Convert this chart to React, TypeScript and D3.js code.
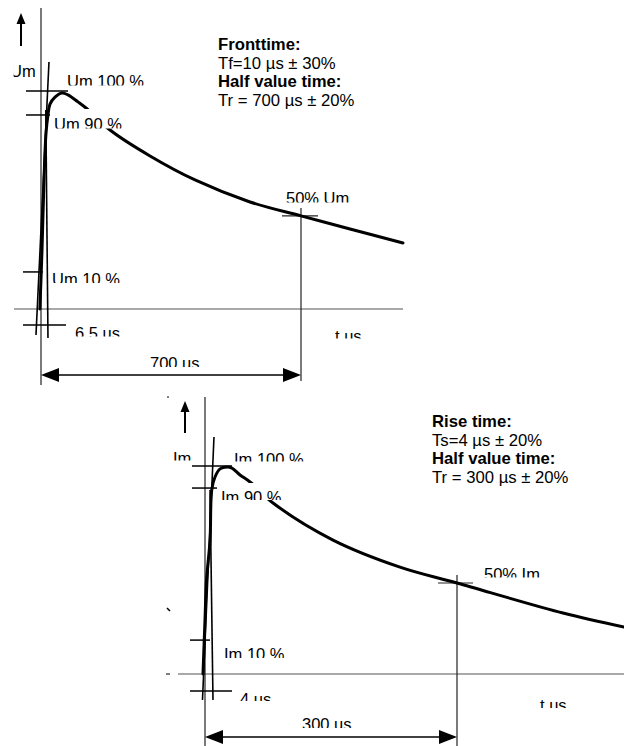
import React from "react";
import * as d3 from "d3";

// ---------- DATA ----------
// Upper waveform (Um, 10/700 µs): time in µs (schematic), level in % of Um
const TOP_T = [-3, 2.7, 8.1, 13.5, 18.8, 24.2, 37.7, 56.5, 72.7, 99.6, 121.2, 185.8, 293.5, 414.6, 562.7, 700, 831.9, 974.6];
const TOP_V = [0, 27.1, 59.2, 80.7, 89.0, 94.0, 97.2, 99.1, 98.2, 95.0, 92.2, 82.1, 70.2, 59.2, 49.1, 42.7, 36.7, 30.3];
// Lower waveform (Im, 4/300 µs)
const BOT_T = [-2.4, 0, 1.8, 6.0, 8.0, 11.9, 17.9, 26.2, 32.1, 41.7, 53.6, 81.0, 152.4, 232.1, 300, 426.2, 498.8];
const BOT_V = [0, 26.0, 45.2, 64.4, 88.5, 94.7, 98.6, 99.5, 99.0, 95.7, 92.3, 82.2, 64.4, 51.4, 43.75, 29.3, 22.6];

// reference levels (100 %, 90 %, 10 %, time marker)
const TOP_LEVELS = [100, 89, 17, -7.3];
const BOT_LEVELS = [100, 89.4, 16.3, -8.2];
const TOP_HALF = { t: 700, v: 42.7 };
const BOT_HALF = { t: 300, v: 43.75 };

// front lines [t0, v0, t1, v1]
const TOP_FRONT = [[21.5, 113.3, -13.5, -11.9], [12.9, 91.3, 18.8, -13.3]];
const BOT_FRONT = [[10.7, 113.9, -3.0, -12.5], [6.0, 88.5, 9.5, -12.5]];

const TOP_LABELS = ["Um", "Um 100 %", "Um 90 %", "Um 10 %", "6.5 us", "700 us", "50% Um", "t us"];
const BOT_LABELS = ["Im", "Im 100 %", "Im 90 %", "Im 10 %", "4 us", "300 us", "50% Im", "t us"];

const TOP_TEXT = [
  { s: "Fronttime:", b: true },
  { s: "Tf=10 µs ± 30%", b: false },
  { s: "Half value time:", b: true },
  { s: "Tr = 700 µs ± 20%", b: false },
];
const BOT_TEXT = [
  { s: "Rise time:", b: true },
  { s: "Ts=4 µs ± 20%", b: false },
  { s: "Half value time:", b: true },
  { s: "Tr = 300 µs ± 20%", b: false },
];

// ---------- LAYOUT ----------
const FONT = "'Liberation Sans', Arial, sans-serif";
const FS = 16.5;
const FS_TXT = 16.7;

type Layout = {
  id: string;
  xDomain: [number, number];
  xRange: [number, number];
  yRange: [number, number];
  axisY: [number, number];
  baseX: [number, number];
  tickExt: [number, number][];
  halfY1: number;
  halfTick: [number, number];
  dimY: number;
  arrow: { x: number; tip: number; base: number; tail: number };
  labelPos: { x: number; top: number; box: [number, number, number, number] }[];
  textX: number;
  textBase: number[];
};

const TOP_LAYOUT: Layout = {
  id: "top",
  xDomain: [0, 700],
  xRange: [41, 301],
  yRange: [309, 91],
  axisY: [8, 385],
  baseX: [14, 403],
  tickExt: [[-15, 27], [-15, 9], [-18, 2], [-18, 25]],
  halfY1: 381,
  halfTick: [-19, 17],
  dimY: 375,
  arrow: { x: 21, tip: 13, base: 24, tail: 46 },
  labelPos: [
    { x: 10, top: 65, box: [13.6, 58, 38, 80] },
    { x: 67, top: 75, box: [64, 70, 150, 85.5] },
    { x: 54, top: 118, box: [52, 109, 124, 128.5] },
    { x: 52, top: 273, box: [50, 267, 125, 283] },
    { x: 75, top: 327, box: [73, 321, 125, 336.5] },
    { x: 150, top: 357, box: [148, 352, 205, 367] },
    { x: 286, top: 192, box: [284, 187, 350, 202.5] },
    { x: 335, top: 330, box: [333, 325, 370, 338.5] },
  ],
  textX: 218,
  textBase: [50, 68.5, 87, 105.5],
};

const BOT_LAYOUT: Layout = {
  id: "bot",
  xDomain: [0, 300],
  xRange: [205, 457],
  yRange: [674, 466],
  axisY: [397, 746],
  baseX: [178, 624],
  tickExt: [[-13, 27], [-13, 12], [-15, 5], [-15, 27]],
  halfY1: 746,
  halfTick: [-19, 16],
  dimY: 737,
  arrow: { x: 185, tip: 401, base: 412, tail: 433 },
  labelPos: [
    { x: 173, top: 452, box: [170, 447, 195, 460.5] },
    { x: 234, top: 453, box: [232, 448, 315, 461.5] },
    { x: 221, top: 491, box: [219, 483, 290, 500] },
    { x: 224, top: 648, box: [222, 643, 295, 658] },
    { x: 240, top: 693, box: [238, 688, 275, 701] },
    { x: 302, top: 718, box: [300, 713, 360, 728] },
    { x: 484, top: 568, box: [482, 563, 550, 577.5] },
    { x: 540, top: 699, box: [538, 694, 575, 708] },
  ],
  textX: 432,
  textBase: [427, 445.5, 464, 482.5],
};

function Panel(props: {
  L: Layout;
  T: number[];
  V: number[];
  levels: number[];
  half: { t: number; v: number };
  front: number[][];
  labels: string[];
  text: { s: string; b: boolean }[];
}) {
  const { L, T, V, levels, half, front, labels, text } = props;
  const x = d3.scaleLinear().domain(L.xDomain).range(L.xRange);
  const y = d3.scaleLinear().domain([0, 100]).range(L.yRange);
  const pts: [number, number][] = T.map((t, i) => [t, V[i]]);
  const line = d3
    .line<[number, number]>()
    .x((d) => x(d[0]))
    .y((d) => y(d[1]))
    .curve(d3.curveCatmullRom.alpha(0.5));
  const x0 = x(0);
  const xh = x(half.t);
  const yh = y(half.v);
  const y0 = y(0);
  const a = L.arrow;
  const dy = L.dimY;
  return (
    <g>
      {/* baseline */}
      <line x1={L.baseX[0]} x2={L.baseX[1]} y1={y0} y2={y0} stroke="#555" strokeWidth={1.2} />
      {/* vertical axis */}
      <line x1={x0} x2={x0} y1={L.axisY[0]} y2={L.axisY[1]} stroke="#222" strokeWidth={1.2} />
      {/* up arrow */}
      <line x1={a.x} x2={a.x} y1={a.base} y2={a.tail} stroke="#000" strokeWidth={2} />
      <path d={`M${a.x},${a.tip} L${a.x - 4.5},${a.base} L${a.x + 4.5},${a.base} Z`} fill="#000" />
      {/* level ticks */}
      {levels.map((lv, i) => (
        <line key={i} x1={x0 + L.tickExt[i][0]} x2={x0 + L.tickExt[i][1]} y1={y(lv)} y2={y(lv)} stroke="#000" strokeWidth={1.5} />
      ))}
      {/* front lines */}
      {front.map((f, i) => (
        <line key={i} x1={x(f[0])} y1={y(f[1])} x2={x(f[2])} y2={y(f[3])} stroke="#000" strokeWidth={1.6} />
      ))}
      {/* half value */}
      <line x1={xh} x2={xh} y1={yh - 8} y2={L.halfY1} stroke="#222" strokeWidth={1.2} />
      <line x1={xh + L.halfTick[0]} x2={xh + L.halfTick[1]} y1={yh} y2={yh} stroke="#222" strokeWidth={1.2} />
      {/* curve */}
      <path d={line(pts) || ""} fill="none" stroke="#000" strokeWidth={3} strokeLinecap="round" />
      {/* dimension */}
      <line x1={x0 + 16} x2={xh - 16} y1={dy} y2={dy} stroke="#000" strokeWidth={1.6} />
      <path d={`M${x0},${dy} L${x0 + 18},${dy - 7} L${x0 + 18},${dy + 7} Z`} fill="#000" />
      <path d={`M${xh},${dy} L${xh - 18},${dy - 7} L${xh - 18},${dy + 7} Z`} fill="#000" />
      {/* labels with clipping boxes */}
      <defs>
        {L.labelPos.map((p, i) => (
          <clipPath key={i} id={`${L.id}-c${i}`}>
            <rect x={p.box[0]} y={p.box[1]} width={p.box[2] - p.box[0]} height={p.box[3] - p.box[1]} />
          </clipPath>
        ))}
      </defs>
      {labels.map((s, i) => {
        const p = L.labelPos[i];
        return (
          <g key={i}>
            <rect x={p.box[0]} y={p.box[1]} width={p.box[2] - p.box[0]} height={p.box[3] - p.box[1]} fill="#fff" />
            <text x={p.x} y={p.top + FS * 0.716} fontSize={FS} fontFamily={FONT} fill="#000" clipPath={`url(#${L.id}-c${i})`}>
              {s}
            </text>
          </g>
        );
      })}
      {/* text block */}
      {text.map((r, i) => (
        <text key={i} x={L.textX} y={L.textBase[i]} fontSize={FS_TXT} fontFamily={FONT} fontWeight={r.b ? "bold" : "normal"} fill="#000">
          {r.s}
        </text>
      ))}
    </g>
  );
}

export default function App() {
  return (
    <svg
      width={624}
      height={746}
      viewBox="0 0 624 746"
      style={{ position: "absolute", left: 0, top: 0, background: "#fff" }}
    >
      <rect x={0} y={0} width={624} height={746} fill="#fff" />
      <Panel L={TOP_LAYOUT} T={TOP_T} V={TOP_V} levels={TOP_LEVELS} half={TOP_HALF} front={TOP_FRONT} labels={TOP_LABELS} text={TOP_TEXT} />
      <Panel L={BOT_LAYOUT} T={BOT_T} V={BOT_V} levels={BOT_LEVELS} half={BOT_HALF} front={BOT_FRONT} labels={BOT_LABELS} text={BOT_TEXT} />
      {/* stray marks */}
      <line x1={167} x2={169} y1={397} y2={397} stroke="#000" strokeWidth={1.2} />
      <line x1={167} x2={170} y1={608} y2={611} stroke="#000" strokeWidth={1.5} />
      <line x1={166} x2={170} y1={674} y2={674} stroke="#000" strokeWidth={1} />
    </svg>
  );
}
